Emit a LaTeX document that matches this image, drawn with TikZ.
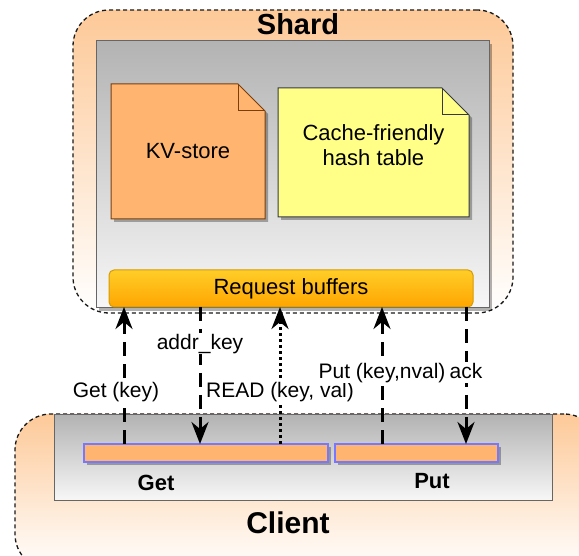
\documentclass[tikz,border=0pt]{standalone}
\usepackage{fontspec}
\setmainfont{Liberation Sans}
\usetikzlibrary{arrows.meta, positioning, calc, shadows}
\definecolor{outerOrange}{RGB}{253,201,152}
\definecolor{grayTop}{RGB}{179,179,179}
\definecolor{grayBottom}{RGB}{247,247,247}
\definecolor{grayLine}{RGB}{102,102,102}
\definecolor{kvFill}{RGB}{255,181,112}
\definecolor{kvLine}{RGB}{122,62,10}
\definecolor{hashFill}{RGB}{255,255,136}
\definecolor{hashLine}{RGB}{54,57,61}
\definecolor{bufTop}{RGB}{255,205,40}
\definecolor{bufBottom}{RGB}{255,165,0}
\definecolor{bufLine}{RGB}{215,155,0}
\definecolor{barLine}{RGB}{119,119,255}

\begin{document}
\begin{tikzpicture}[x=1pt, y=1pt,
  outerBox/.style={draw=black!90, line width=1.3pt, dash pattern=on 4pt off 3pt, rounded corners=36pt, top color=outerOrange, bottom color=white, inner sep=0pt, outer sep=0pt},
  grayBox/.style={draw=grayLine, line width=1pt, top color=grayTop, bottom color=grayBottom, inner sep=0pt, outer sep=0pt},
  boxShadow/.style={drop shadow={shadow xshift=3pt, shadow yshift=-3pt, opacity=0.3, fill=black}},
  noteBase/.style={inner sep=0pt, outer sep=0pt},
  kvNote/.style={draw=kvLine, fill=kvFill, line width=1pt},
  hashNote/.style={draw=hashLine, fill=hashFill, line width=1pt},
  barBox/.style={draw=barLine, fill=kvFill, line width=1.2pt, inner sep=0pt, outer sep=0pt, minimum height=18pt, boxShadow},
  title/.style={font=\fontsize{29}{32}\selectfont\bfseries},
  boxText/.style={font=\fontsize{22}{25}\selectfont, align=center},
  lbl/.style={solid, draw=none, fill=white, inner sep=1pt, text height=15pt, text depth=4pt, font=\fontsize{21}{24}\selectfont},
  req/.style={line width=3pt, dash pattern=on 14pt off 8pt, -{Stealth[length=22pt, width=17pt, inset=7pt]}},
  readReq/.style={req, dash pattern=on 3pt off 3pt}
]
\useasboundingbox (0,0) rectangle (579,555);
\clip (0,0) rectangle (579,555);

% Shard
\node[outerBox, minimum width=440pt, minimum height=303pt] (shard) at (293,393.5) {};
\node[grayBox, boxShadow, minimum width=393pt, minimum height=267pt] (shardIn) at (292.5,380.5) {};
\node[title] (shardTitle) at (298,531) {Shard};

% Notes
\node[noteBase, minimum width=154pt, minimum height=135pt] (kv) at (188,403.5) {};
\draw[kvNote, boxShadow] (kv.south west) -- (kv.north west) -- ([xshift=-27pt]kv.north east)
  -- ([yshift=-27pt]kv.north east) -- (kv.south east) -- cycle;
\draw[kvNote, fill=none] ([xshift=-27pt]kv.north east) -- ([shift={(-27pt,-27pt)}]kv.north east) -- ([yshift=-27pt]kv.north east);
\node[boxText] (kvText) at (kv) {KV-store};

\node[noteBase, minimum width=191pt, minimum height=129pt] (hash) at (373.5,402.5) {};
\draw[hashNote, boxShadow] (hash.south west) -- (hash.north west) -- ([xshift=-27pt]hash.north east)
  -- ([yshift=-27pt]hash.north east) -- (hash.south east) -- cycle;
\draw[hashNote, fill=none] ([xshift=-27pt]hash.north east) -- ([shift={(-27pt,-27pt)}]hash.north east) -- ([yshift=-27pt]hash.north east);
\node[boxText] (hashText) at ([yshift=7pt]hash.center) {Cache-friendly\\hash table};

% Request buffers
\node[draw=bufLine, line width=1pt, rounded corners=5pt, top color=bufTop, bottom color=bufBottom,
  minimum width=364pt, minimum height=37pt, inner sep=0pt, outer sep=0pt, boxText] (buf) at (291,266.5) {Request buffers};

% Client
\node[outerBox, minimum width=585pt, minimum height=156pt] (client) at (307.5,63) {};
\node[grayBox, minimum width=498pt, minimum height=85pt] (clientIn) at (303,97.5) {};
\node[barBox, minimum width=244pt] (getBar) at (206,102) {};
\node[barBox, minimum width=163pt] (putBar) at (416.5,102) {};
\node[title, font=\fontsize{22}{25}\selectfont\bfseries] (getText) at (156,72) {Get};
\node[title, font=\fontsize{22}{25}\selectfont\bfseries] (putText) at (432,74) {Put};
\node[title, font=\fontsize{30}{33}\selectfont\bfseries] (clientTitle) at (288,32) {Client};

% Requests
\draw[req] (getBar.north -| 124,0) -- (buf.south -| 124,0) node[lbl, pos=0.38, xshift=-8pt] {Get (key)};
\draw[req] (buf.south -| 200,0) -- (getBar.north -| 200,0) node[lbl, pos=0.27] {addr\_key};
\draw[readReq] (getBar.north -| 280,0) -- (buf.south -| 280,0) node[lbl, pos=0.38] {READ (key, val)};
\draw[req] (putBar.north -| 382,0) -- (buf.south -| 382,0) node[lbl, pos=0.52] {Put (key,nval)};
\draw[req] (buf.south -| 466,0) -- (putBar.north -| 466,0) node[lbl, pos=0.48] {ack};
\end{tikzpicture}
\end{document}
